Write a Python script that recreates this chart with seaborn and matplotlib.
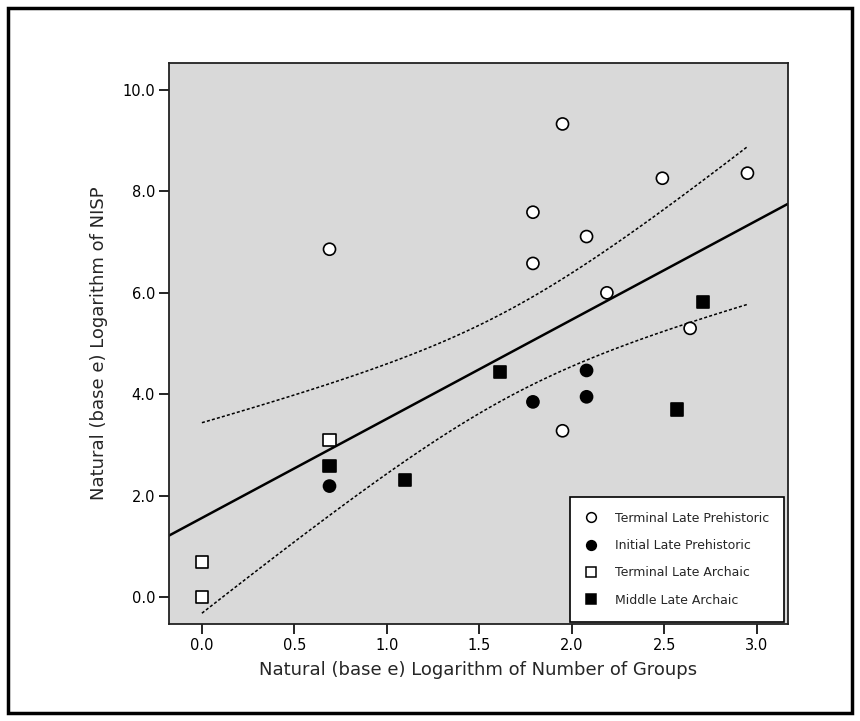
import numpy as np
import pandas as pd
import matplotlib
matplotlib.use('Agg')
import matplotlib.pyplot as plt
import seaborn as sns
from matplotlib.ticker import FormatStrFormatter
from matplotlib.patches import Rectangle

# ln(number of groups) and ln(NISP) per period
tlp_x = [0.69, 1.95, 1.79, 1.79, 2.08, 2.49, 2.95, 2.19, 2.64, 1.95]
tlp_y = [6.86, 9.33, 7.59, 6.58, 7.11, 8.26, 8.36, 6.00, 5.30, 3.28]
ilp_x = [1.79, 2.08, 2.08, 0.69]
ilp_y = [3.85, 4.47, 3.95, 2.19]
tla_x = [0.00, 0.00, 0.69]
tla_y = [0.69, 0.00, 3.10]
mla_x = [1.61, 2.71, 2.57, 1.10, 0.69]
mla_y = [4.43, 5.81, 3.70, 2.31, 2.58]

periods = ['Terminal Late Prehistoric', 'Initial Late Prehistoric',
           'Terminal Late Archaic', 'Middle Late Archaic']
period_x = [tlp_x, ilp_x, tla_x, mla_x]
period_y = [tlp_y, ilp_y, tla_y, mla_y]

df = pd.concat([pd.DataFrame({'x': px, 'y': py, 'period': p})
                for p, px, py in zip(periods, period_x, period_y)],
               ignore_index=True)

sns.set_style('ticks')
plt.rcParams['font.family'] = ['DejaVu Sans']

fig = plt.figure(figsize=(8.6, 7.21), dpi=100)
ax = fig.add_axes([0.1965, 0.1345, 0.7195, 0.778])
ax.set_facecolor('#d9d9d9')

# regression line + 95% confidence band for the mean
x = df['x'].values
y = df['y'].values
n = len(x)
slope, intercept = np.polyfit(x, y, 1)
resid = y - (slope * x + intercept)
s = np.sqrt(np.sum(resid ** 2) / (n - 2))
t = 2.086  # t(0.975, df=20)
xlim = (-0.178, 3.168)
xl = np.linspace(xlim[0], xlim[1], 50)
ax.plot(xl, slope * xl + intercept, color='black', lw=1.8, zorder=2)
xb = np.linspace(x.min(), x.max(), 100)
se = s * np.sqrt(1 / n + (xb - x.mean()) ** 2 / np.sum((x - x.mean()) ** 2))
fit = slope * xb + intercept
ax.plot(xb, fit + t * se, color='black', lw=1.1, dashes=(2, 1.4), zorder=2)
ax.plot(xb, fit - t * se, color='black', lw=1.1, dashes=(2, 1.4), zorder=2)

palette = {periods[0]: 'white', periods[1]: 'black',
           periods[2]: 'white', periods[3]: 'black'}
markers = {periods[0]: 'o', periods[1]: 'o', periods[2]: 's', periods[3]: 's'}
sns.scatterplot(data=df, x='x', y='y', hue='period', style='period',
                palette=palette, markers=markers, hue_order=periods,
                style_order=periods, s=75, edgecolor='black', linewidth=1.2,
                ax=ax, zorder=3, legend=False)

handles = [plt.Line2D([], [], ls='none', marker=markers[p], markersize=7,
                      markerfacecolor=palette[p], markeredgecolor='black',
                      markeredgewidth=1.1) for p in periods]
leg = ax.legend(handles, periods, loc='lower right',
                bbox_to_anchor=(0.994, 0.004), borderaxespad=0,
                fontsize=9, frameon=True, fancybox=False, framealpha=1,
                edgecolor='black', borderpad=1.2, labelspacing=1.15,
                handlelength=1.0, handletextpad=1.4)
leg.get_frame().set_linewidth(1.2)

ax.set_xlim(*xlim)
ax.set_ylim(-0.53, 10.53)
ax.set_xticks([0.0, 0.5, 1.0, 1.5, 2.0, 2.5, 3.0])
ax.set_yticks([0.0, 2.0, 4.0, 6.0, 8.0, 10.0])
ax.xaxis.set_major_formatter(FormatStrFormatter('%.1f'))
ax.yaxis.set_major_formatter(FormatStrFormatter('%.1f'))
ax.tick_params(direction='out', length=7, width=1.2, labelsize=10.5,
               colors='black', pad=3)
for sp in ax.spines.values():
    sp.set_visible(True)
    sp.set_color('#222222')
    sp.set_linewidth(1.3)

ax.set_xlabel('Natural (base e) Logarithm of Number of Groups', fontsize=13,
              labelpad=6)
ax.set_ylabel('Natural (base e) Logarithm of NISP', fontsize=13, labelpad=10)

# outer frame around the whole figure
fig.patches.append(Rectangle((0.009, 0.011), 0.982, 0.978,
                             transform=fig.transFigure, fill=False,
                             edgecolor='black', lw=2.5))

fig.savefig('out.png', dpi=100, facecolor='white')
